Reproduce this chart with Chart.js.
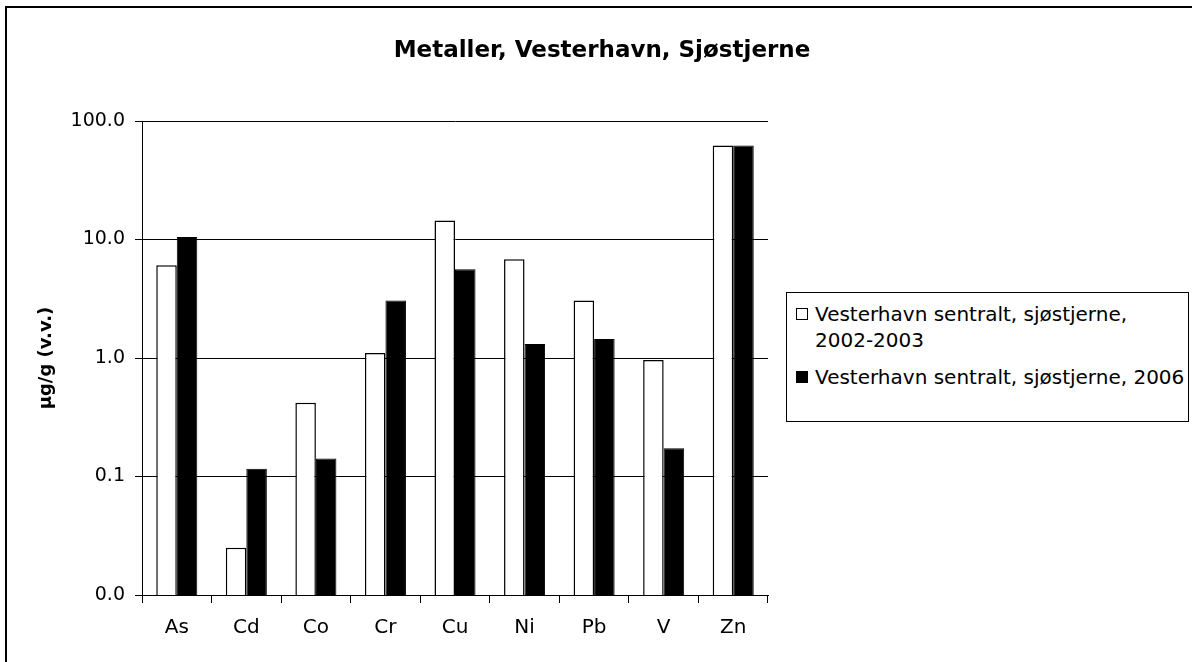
<!DOCTYPE html>
<html>
<head>
<meta charset="utf-8">
<script src="https://cdn.jsdelivr.net/npm/chart.js@4.4.1/dist/chart.umd.min.js"></script>
<style>
  html, body { margin: 0; padding: 0; background: #fff; }
  #wrap { position: relative; width: 1192px; height: 662px; overflow: hidden; }
  #legend {
    position: absolute; left: 786px; top: 292px; width: 401px; height: 128px;
    border: 1px solid #000; background: #fff;
    font-family: "DejaVu Sans", sans-serif; font-size: 20px; line-height: 26px; color: #000;
    box-sizing: content-box;
  }
  .item { position: relative; padding-left: 28px; width: 372px; }
  .item + .item { margin-top: 11px; }
  .item:first-child { margin-top: 8px; }
  .mark { position: absolute; left: 9px; top: 7px; width: 10px; height: 10px; border: 1px solid #000; }
</style>
</head>
<body>
<div id="wrap">
  <canvas id="c" width="1192" height="662"></canvas>
  <div id="legend"></div>
</div>
<script>
const TITLE = 'Metaller, Vesterhavn, Sjøstjerne';
const Y_TITLE = 'µg/g (v.v.)';
const CATEGORIES = ['As', 'Cd', 'Co', 'Cr', 'Cu', 'Ni', 'Pb', 'V', 'Zn'];
const SERIES_NAMES = ['Vesterhavn sentralt, sjøstjerne, 2002-2003', 'Vesterhavn sentralt, sjøstjerne, 2006'];
const VALUES_2002_2003 = [6.05, 0.025, 0.42, 1.10, 14.5, 6.8, 3.05, 0.96, 62];
const VALUES_2006 = [10.5, 0.116, 0.142, 3.05, 5.6, 1.31, 1.45, 0.173, 62];
const Y_TICK_VALUES = [0.01, 0.1, 1, 10, 100];
const Y_TICK_LABELS = ['0.0', '0.1', '1.0', '10.0', '100.0'];
const SERIES_FILLS = ['#ffffff', '#000000'];

const FONT = '"DejaVu Sans", sans-serif';

const framePlugin = {
  id: 'frameAndTitle',
  beforeDraw(chart) {
    const ctx = chart.ctx;
    ctx.save();
    ctx.fillStyle = '#fff';
    ctx.fillRect(0, 0, chart.width, chart.height);
    ctx.strokeStyle = '#000';
    ctx.lineWidth = 2;
    ctx.strokeRect(6, 7, chart.width + 20, chart.height + 20);
    ctx.fillStyle = '#000';
    ctx.font = 'bold 23px ' + FONT;
    ctx.textAlign = 'center';
    ctx.textBaseline = 'middle';
    ctx.fillText(TITLE, 602, 51);
    ctx.restore();
  }
};

const chart = new Chart(document.getElementById('c'), {
  type: 'bar',
  data: {
    labels: CATEGORIES,
    datasets: [
      { label: SERIES_NAMES[0], data: VALUES_2002_2003, backgroundColor: SERIES_FILLS[0], borderColor: '#000', borderWidth: 1.5, borderSkipped: 'bottom' },
      { label: SERIES_NAMES[1], data: VALUES_2006, backgroundColor: SERIES_FILLS[1], borderColor: '#000', borderWidth: 1, borderSkipped: 'bottom' }
    ]
  },
  options: {
    responsive: false,
    animation: false,
    devicePixelRatio: 1,
    layout: { padding: { left: 10, right: 424, top: 121, bottom: 0 } },
    datasets: { bar: { categoryPercentage: 0.59, barPercentage: 1.0 } },
    plugins: {
      legend: { display: false },
      title: { display: false },
      tooltip: { enabled: false }
    },
    scales: {
      x: {
        offset: true,
        grid: { offset: true, drawOnChartArea: false, drawTicks: true, tickLength: 8, color: '#000', lineWidth: 1 },
        border: { color: '#000', width: 1 },
        ticks: { color: '#000', font: { family: FONT, size: 20 }, padding: 13, maxRotation: 0 },
        afterFit(scale) { scale.height = 67; }
      },
      y: {
        type: 'logarithmic',
        min: 0.01,
        max: 100,
        grid: { color: '#000', lineWidth: 1, drawTicks: true, tickLength: 7 },
        border: { color: '#000', width: 1 },
        ticks: {
          color: '#000', font: { family: FONT, size: 19 }, padding: 10,
          callback(value) {
            const i = Y_TICK_VALUES.indexOf(value);
            return i >= 0 ? Y_TICK_LABELS[i] : '';
          }
        },
        afterBuildTicks(scale) { scale.ticks = Y_TICK_VALUES.map(v => ({ value: v })); },
        title: { display: true, text: Y_TITLE, color: '#000', font: { family: FONT, size: 18, weight: 'bold' }, padding: { top: 26, bottom: 0 } },
        afterFit(scale) { scale.width = 132; }
      }
    }
  },
  plugins: [framePlugin]
});

// HTML legend built from the chart's datasets
const legendEl = document.getElementById('legend');
chart.data.datasets.forEach((ds) => {
  const item = document.createElement('div');
  item.className = 'item';
  const mark = document.createElement('span');
  mark.className = 'mark';
  mark.style.background = ds.backgroundColor;
  item.appendChild(mark);
  item.appendChild(document.createTextNode(ds.label));
  legendEl.appendChild(item);
});
</script>
</body>
</html>
